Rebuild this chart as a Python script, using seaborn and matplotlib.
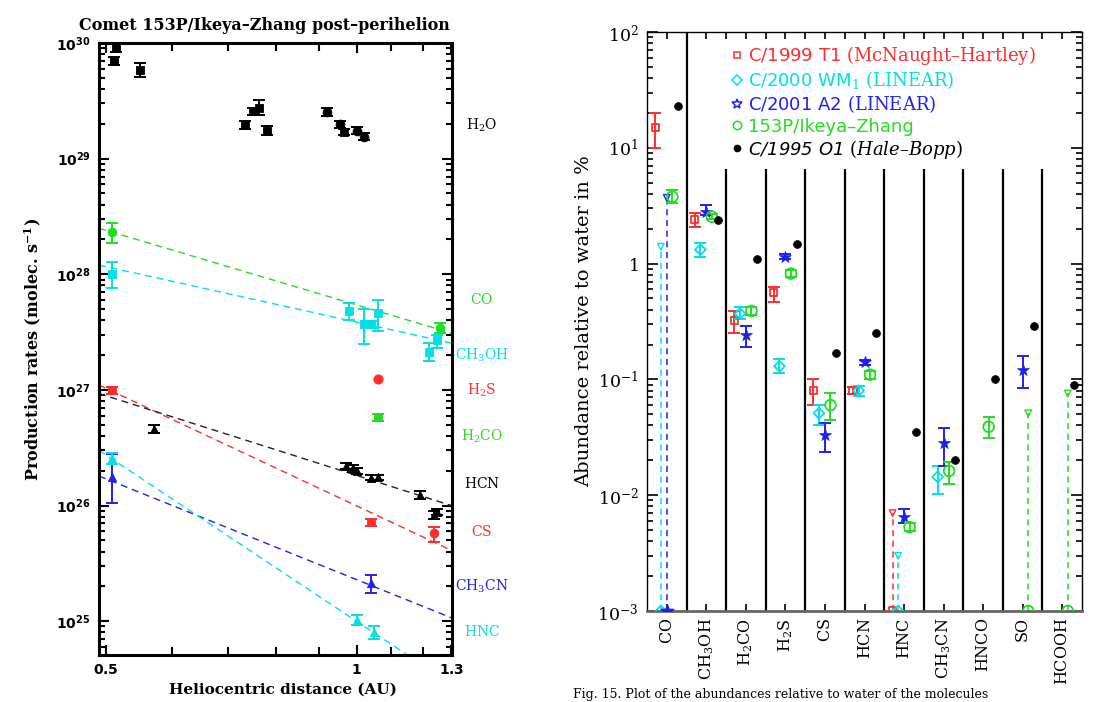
import numpy as np
import pandas as pd
import matplotlib
matplotlib.use("Agg")
import matplotlib.pyplot as plt
import seaborn as sns
from matplotlib.lines import Line2D
from matplotlib import ticker

sns.set_theme(style="ticks")
plt.rcParams["font.family"] = ["DejaVu Sans"]
plt.rcParams["mathtext.fontset"] = "custom"
plt.rcParams["mathtext.rm"] = "DejaVu Serif"
plt.rcParams["mathtext.it"] = "DejaVu Serif:italic"
plt.rcParams["mathtext.bf"] = "DejaVu Serif:bold"
plt.rcParams["mathtext.sf"] = "DejaVu Sans:bold"
for k in ["text.color", "axes.labelcolor", "xtick.color", "ytick.color", "axes.edgecolor"]:
    plt.rcParams[k] = "black"

RED, CYAN, BLUE, GREEN, BLACK = "#ff2d2d", "#00e0e8", "#2020ee", "#22dd22", "#000000"

# ---------------- left panel data (heliocentric distance AU, Q molec/s) -------------
h2o_sq_r = [0.514, 0.511, 0.549, 0.734, 0.750, 0.763, 0.780, 0.965]
h2o_sq_q = [9.1e29, 7.0e29, 5.8e29, 1.95e29, 2.57e29, 2.74e29, 1.74e29, 1.70e29]
h2o_sq_lo = [8.4e29, 6.5e29, 5.08e29, 1.82e29, 2.40e29, 2.38e29, 1.60e29, 1.60e29]
h2o_sq_hi = [9.8e29, 7.5e29, 6.7e29, 2.10e29, 2.75e29, 3.20e29, 1.90e29, 1.80e29]
h2o_ci_r = [0.92, 0.954, 1.00, 1.02]
h2o_ci_q = [2.53e29, 1.99e29, 1.74e29, 1.55e29]
h2o_ci_lo = [2.35e29, 1.85e29, 1.62e29, 1.45e29]
h2o_ci_hi = [2.72e29, 2.13e29, 1.86e29, 1.65e29]

co_r = [0.508, 1.26]
co_q = [2.32e28, 3.43e27]
co_lo = [1.85e28, 3.10e27]
co_hi = [2.80e28, 3.80e27]
co_fit_r = [0.49, 1.3]
co_fit_q = [2.5e28, 3.1e27]

ch3oh_r = [0.508, 0.978, 1.02, 1.04, 1.06, 1.22, 1.25]
ch3oh_q = [1.0e28, 4.8e27, 3.7e27, 3.7e27, 4.6e27, 2.14e27, 2.7e27]
ch3oh_lo = [7.6e27, 4.0e27, 2.49e27, 3.45e27, 3.2e27, 1.78e27, 2.3e27]
ch3oh_hi = [1.27e28, 5.6e27, 5.0e27, 3.95e27, 6.0e27, 2.54e27, 3.0e27]
ch3oh_fit_r = [0.49, 1.3]
ch3oh_fit_q = [1.2e28, 2.54e27]

h2s_r = [1.06]
h2s_q = [1.24e27]

h2co_r = [1.06]
h2co_q = [5.8e26]
h2co_lo = [5.4e26]
h2co_hi = [6.2e26]

cs_sq_r = [0.508, 1.04]
cs_sq_q = [1.0e27, 7.2e25]
cs_sq_lo = [0.93e27, 6.7e25]
cs_sq_hi = [1.07e27, 7.7e25]
cs_ci_r = [1.24]
cs_ci_q = [5.8e25]
cs_ci_lo = [4.8e25]
cs_ci_hi = [6.5e25]
cs_fit_r = [0.49, 1.3]
cs_fit_q = [1.1e27, 4.1e25]

hcn_r = [0.570, 0.97, 0.99, 1.00, 1.04, 1.06, 1.19, 1.24, 1.25]
hcn_q = [4.6e26, 2.2e26, 2.1e26, 2.0e26, 1.74e26, 1.75e26, 1.23e26, 8.3e25, 8.8e25]
hcn_lo = [4.2e26, 2.05e26, 1.95e26, 1.88e26, 1.66e26, 1.67e26, 1.13e26, 7.6e25, 8.3e25]
hcn_hi = [5.0e26, 2.35e26, 2.25e26, 2.12e26, 1.82e26, 1.83e26, 1.33e26, 9.0e25, 9.3e25]
hcn_fit_r = [0.49, 1.3]
hcn_fit_q = [9.3e26, 1.0e26]

ch3cn_r = [0.508, 1.04]
ch3cn_q = [1.76e26, 2.14e25]
ch3cn_lo = [1.05e26, 1.75e25]
ch3cn_hi = [2.8e26, 2.5e25]
ch3cn_fit_r = [0.49, 1.3]
ch3cn_fit_q = [1.8e26, 1.07e25]

hnc_r = [0.508, 1.00, 1.05]
hnc_q = [2.6e26, 1.02e25, 8.0e24]
hnc_lo = [2.3e26, 9.2e24, 7.0e24]
hnc_hi = [2.85e26, 1.12e25, 9.0e24]
hnc_fit_r = [0.49, 1.3]
hnc_fit_q = [3.0e26, 2.85e24]

species_labels = [r"$\mathrm{H_2O}$", r"$\mathrm{CO}$", r"$\mathrm{CH_3OH}$", r"$\mathrm{H_2S}$",
                  r"$\mathrm{H_2CO}$", r"$\mathrm{HCN}$", r"$\mathrm{CS}$", r"$\mathrm{CH_3CN}$",
                  r"$\mathrm{HNC}$"]
species_colors = [BLACK, GREEN, CYAN, RED, GREEN, BLACK, RED, BLUE, CYAN]
species_label_y = [125, 300, 355, 390, 436, 483, 531, 586, 632]   # figure pixel rows

# ---------------- right panel data (abundance relative to water, %) ----------------
molecules = ["CO", "CH3OH", "H2CO", "H2S", "CS", "HCN", "HNC", "CH3CN", "HNCO", "SO", "HCOOH"]
mol_ticklabels = [r"$\mathrm{CO}$", r"$\mathrm{CH_3OH}$", r"$\mathrm{H_2CO}$", r"$\mathrm{H_2S}$",
                  r"$\mathrm{CS}$", r"$\mathrm{HCN}$", r"$\mathrm{HNC}$", r"$\mathrm{CH_3CN}$",
                  r"$\mathrm{HNCO}$", r"$\mathrm{SO}$", r"$\mathrm{HCOOH}$"]
nan = np.nan
mh_val = [14.9, 2.39, 0.323, 0.56, 0.080, 0.080, nan, nan, nan, nan, nan]
mh_lo = [10.0, 2.08, 0.25, 0.47, 0.060, 0.075, nan, nan, nan, nan, nan]
mh_hi = [20.0, 2.75, 0.39, 0.63, 0.100, 0.086, nan, nan, nan, nan, nan]
mh_lim = [nan, nan, nan, nan, nan, nan, 0.0070, nan, nan, nan, nan]

wm_val = [nan, 1.32, 0.37, 0.13, 0.051, 0.080, nan, 0.0144, nan, nan, nan]
wm_lo = [nan, 1.13, 0.335, 0.113, 0.040, 0.072, nan, 0.0102, nan, nan, nan]
wm_hi = [nan, 1.52, 0.42, 0.150, 0.060, 0.088, nan, 0.0178, nan, nan, nan]
wm_lim = [1.40, nan, nan, nan, nan, nan, 0.0030, nan, nan, nan, nan]

a2_val = [nan, 2.81, 0.24, 1.15, 0.033, 0.140, 0.0065, 0.028, nan, 0.12, nan]
a2_lo = [nan, 2.64, 0.19, 1.09, 0.0236, 0.133, 0.0057, 0.0178, nan, 0.085, nan]
a2_hi = [nan, 3.20, 0.29, 1.21, 0.042, 0.147, 0.0076, 0.038, nan, 0.158, nan]
a2_lim = [3.7, nan, nan, nan, nan, nan, nan, nan, nan, nan, nan]

iz_val = [3.78, 2.54, 0.39, 0.82, 0.060, 0.110, 0.0053, 0.0162, 0.039, nan, nan]
iz_lo = [3.35, 2.42, 0.36, 0.76, 0.045, 0.101, 0.0049, 0.0125, 0.031, nan, nan]
iz_hi = [4.30, 2.66, 0.42, 0.88, 0.076, 0.119, 0.0057, 0.0195, 0.047, nan, nan]
iz_lim = [nan, nan, nan, nan, nan, nan, nan, nan, nan, 0.051, 0.0756]

hb_val = [23.0, 2.39, 1.10, 1.49, 0.17, 0.25, 0.035, 0.020, 0.10, 0.29, 0.09]

comet_names = ["C/1999 T1 $\\mathrm{(McNaught\u2013Hartley)}$",
               "C/2000 WM$_1$ $\\mathrm{(LINEAR)}$",
               "C/2001 A2 $\\mathrm{(LINEAR)}$",
               "153P/Ikeya\u2013Zhang",
               "C/1995 O1 $\\mathit{(Hale\u2013Bopp)}$"]

W, H = 1115, 702
fig = plt.figure(figsize=(W / 100, H / 100), dpi=100)
axL = fig.add_axes([99 / W, 1 - 655 / H, 353 / W, 612 / H])
axR = fig.add_axes([647 / W, 1 - 611 / H, 435 / W, 579 / H])

# ======================= LEFT PANEL =======================
axL.set_xscale("log")
axL.set_yscale("log")
axL.set_xlim(0.49, 1.302)
axL.set_ylim(5.1e24, 1e30)


def left_series(r, q, lo, hi, marker, color, s=34):
    r = np.asarray(r, float)
    q = np.asarray(q, float)
    if lo is not None:
        axL.errorbar(r, q, yerr=[q - np.asarray(lo), np.asarray(hi) - q], fmt="none",
                     ecolor=color, elinewidth=1.4, capsize=4, capthick=1.4, zorder=2)
    sns.scatterplot(x=r, y=q, marker=marker, color=color, s=s, edgecolor=color,
                    linewidth=0.6, ax=axL, zorder=3, legend=False)


def left_fit(r, q, color):
    sns.lineplot(x=r, y=q, color=color, ax=axL, linewidth=1.0,
                 linestyle=(0, (5, 3.5)), zorder=1)


left_fit(co_fit_r, co_fit_q, GREEN)
left_fit(ch3oh_fit_r, ch3oh_fit_q, CYAN)
left_fit(cs_fit_r, cs_fit_q, RED)
left_fit(hcn_fit_r, hcn_fit_q, "#222222")
left_fit(ch3cn_fit_r, ch3cn_fit_q, BLUE)
left_fit(hnc_fit_r, hnc_fit_q, CYAN)

left_series(h2o_sq_r, h2o_sq_q, h2o_sq_lo, h2o_sq_hi, "s", BLACK)
left_series(h2o_ci_r, h2o_ci_q, h2o_ci_lo, h2o_ci_hi, "o", BLACK, s=40)
left_series(co_r, co_q, co_lo, co_hi, "o", GREEN, s=40)
left_series(ch3oh_r, ch3oh_q, ch3oh_lo, ch3oh_hi, "s", CYAN, s=40)
left_series(h2s_r, h2s_q, None, None, "o", RED, s=45)
left_series(h2co_r, h2co_q, h2co_lo, h2co_hi, "s", GREEN)
left_series(cs_sq_r, cs_sq_q, cs_sq_lo, cs_sq_hi, "s", RED, s=40)
left_series(cs_ci_r, cs_ci_q, cs_ci_lo, cs_ci_hi, "o", RED, s=40)
left_series(hcn_r, hcn_q, hcn_lo, hcn_hi, "^", BLACK)
left_series(ch3cn_r, ch3cn_q, ch3cn_lo, ch3cn_hi, "^", BLUE)
left_series(hnc_r, hnc_q, hnc_lo, hnc_hi, "^", CYAN)

axL.xaxis.set_major_locator(ticker.FixedLocator([0.5, 1.0, 1.3]))
axL.xaxis.set_major_formatter(ticker.FixedFormatter([r"$\mathsf{0.5}$", r"$\mathsf{1}$", r"$\mathsf{1.3}$"]))
axL.xaxis.set_minor_locator(ticker.FixedLocator([0.6, 0.7, 0.8, 0.9, 1.1, 1.2]))
axL.xaxis.set_minor_formatter(ticker.NullFormatter())
axL.yaxis.set_major_locator(ticker.LogLocator(base=10, numticks=20))
axL.yaxis.set_major_formatter(ticker.FuncFormatter(
    lambda v, p: r"$\mathsf{10^{%d}}$" % round(np.log10(v))))
axL.yaxis.set_minor_locator(ticker.LogLocator(base=10, subs=np.arange(2, 10), numticks=100))
axL.yaxis.set_minor_formatter(ticker.NullFormatter())
axL.tick_params(which="both", direction="in", top=True, right=True, width=1.5, colors="black",
                labelsize=10, pad=6)
axL.tick_params(which="major", length=7)
axL.tick_params(which="minor", length=4)
axL.tick_params(axis="x", which="minor", length=6)
for sp in axL.spines.values():
    sp.set_linewidth(2.2)
    sp.set_color("black")
    sp.set_visible(True)

axL.set_xlabel("Heliocentric distance (AU)", fontfamily="DejaVu Serif", fontweight="bold",
               fontsize=11, color="black")
axL.set_ylabel(r"Production rates (molec. s$^{\mathbf{-1}}$)", fontfamily="DejaVu Serif",
               fontweight="bold", fontsize=11.5, color="black")
axL.xaxis.set_label_coords(0.52, -0.046)
axL.yaxis.set_label_coords(-0.158, 0.5)
fig.text(264 / W, 1 - 26 / H, "Comet 153P/Ikeya\u2013Zhang post\u2013perihelion", ha="center", va="center",
         fontfamily="DejaVu Serif", fontweight="bold", fontsize=11.5, color="black")

for lab, col, py in zip(species_labels, species_colors, species_label_y):
    fig.text(482 / W, 1 - py / H, lab, color=col, ha="center", va="center", fontsize=10)

# ======================= RIGHT PANEL =======================
axR.set_yscale("log")
axR.set_ylim(1e-3, 1e2)
axR.set_xlim(-0.5, 10.5)
pos = np.arange(len(molecules))

# separators between molecules
axR.axvline(0.5, color="black", lw=1.6, zorder=1)
axR.vlines(pos[1:-1] + 0.5, 1e-3, 6.5, color="black", lw=1.6, zorder=1)


def right_series(val, lo, hi, lim, off, color, marker, s, filled):
    x = pos + off
    val = np.asarray(val, float)
    df = pd.DataFrame({"x": x, "y": val}).dropna()
    if lo is not None:
        lo = np.asarray(lo, float)
        hi = np.asarray(hi, float)
        ok = ~np.isnan(val)
        axR.errorbar(x[ok], val[ok], yerr=[val[ok] - lo[ok], hi[ok] - val[ok]], fmt="none",
                     ecolor=color, elinewidth=1.4, capsize=4, capthick=1.4, zorder=2)
    sns.scatterplot(data=df, x="x", y="y", marker=marker, s=s, color=color, edgecolor=color,
                    linewidth=1.3 if not filled else 0.5, ax=axR, zorder=3, legend=False)
    if not filled:
        axR.collections[-1].set_facecolor("none")
    if lim is not None:
        lim = np.asarray(lim, float)
        ok = ~np.isnan(lim)
        for xi, li in zip(x[ok], lim[ok]):
            axR.plot([xi, xi], [1e-3, li], color=color, lw=1.1, linestyle=(0, (4, 3)), zorder=2)
        dfl = pd.DataFrame({"x": x[ok], "y": lim[ok]})
        sns.scatterplot(data=dfl, x="x", y="y", marker="v", s=22, color=color, edgecolor=color,
                        linewidth=1.0, ax=axR, zorder=3, legend=False)
        axR.collections[-1].set_facecolor("none")
        dfb = pd.DataFrame({"x": x[ok], "y": np.full(ok.sum(), 1e-3)})
        sns.scatterplot(data=dfb, x="x", y="y", marker=marker, s=s, color=color, edgecolor=color,
                        linewidth=1.3, ax=axR, zorder=3, legend=False)
        if not filled:
            axR.collections[-1].set_facecolor("none")


right_series(mh_val, mh_lo, mh_hi, mh_lim, -0.29, RED, "s", 26, False)
right_series(wm_val, wm_lo, wm_hi, wm_lim, -0.15, CYAN, "D", 30, False)
right_series(a2_val, a2_lo, a2_hi, a2_lim, 0.0, BLUE, "*", 80, True)
right_series(iz_val, iz_lo, iz_hi, iz_lim, 0.14, GREEN, "o", 60, False)
right_series(hb_val, None, None, None, 0.29, BLACK, "o", 32, True)

axR.xaxis.set_major_locator(ticker.FixedLocator(pos))
axR.xaxis.set_major_formatter(ticker.FixedFormatter(mol_ticklabels))
axR.xaxis.set_minor_locator(ticker.FixedLocator(pos[:-1] + 0.5))
axR.xaxis.set_minor_formatter(ticker.NullFormatter())
for t in axR.get_xticklabels():
    t.set_rotation(90)
axR.tick_params(axis="x", which="major", labelsize=11.5, pad=5)
axR.yaxis.set_major_locator(ticker.FixedLocator([1e-3, 1e-2, 1e-1, 1, 10, 100]))
axR.yaxis.set_major_formatter(ticker.FixedFormatter(
    [r"$\mathrm{10^{-3}}$", r"$\mathrm{10^{-2}}$", r"$\mathrm{10^{-1}}$", r"$\mathrm{1}$",
     r"$\mathrm{10^{1}}$", r"$\mathrm{10^{2}}$"]))
axR.yaxis.set_minor_locator(ticker.LogLocator(base=10, subs=np.arange(2, 10), numticks=100))
axR.yaxis.set_minor_formatter(ticker.NullFormatter())
axR.tick_params(which="both", direction="in", top=True, right=True, width=1.2, colors="black")
axR.tick_params(axis="y", which="major", length=8, labelsize=12.5, pad=6)
axR.tick_params(axis="y", which="minor", length=4)
axR.tick_params(axis="x", which="both", length=5)
for name, sp in axR.spines.items():
    sp.set_linewidth(1.0)
    sp.set_color("black")
axR.spines["bottom"].set_color("#666666")
axR.spines["bottom"].set_linewidth(2.0)
axR.set_xlabel("")
axR.set_ylabel("Abundance relative to water in %", fontfamily="DejaVu Serif", fontsize=14,
               color="black")
axR.yaxis.set_label_coords(-0.124, 0.5)

handles = [
    Line2D([], [], marker="s", mfc="none", mec=RED, ls="none", ms=5, mew=1.1),
    Line2D([], [], marker="D", mfc="none", mec=CYAN, ls="none", ms=5, mew=1.1),
    Line2D([], [], marker="*", mfc="none", mec=BLUE, ls="none", ms=7, mew=1.1),
    Line2D([], [], marker="o", mfc="none", mec=GREEN, ls="none", ms=6, mew=1.1),
    Line2D([], [], marker="o", mfc=BLACK, mec=BLACK, ls="none", ms=4.5),
]
leg = axR.legend(handles, comet_names, loc="upper left", bbox_to_anchor=(0.1945, 0.979),
                 frameon=False, fontsize=13, handlelength=0.6, handletextpad=0.3,
                 borderpad=0, borderaxespad=0, labelspacing=0.12,
                 labelcolor=[RED, CYAN, BLUE, GREEN, BLACK])
leg.get_texts()[4].set_fontstyle("italic")

fig.text(573 / W, 1 / H, "Fig. 15. Plot of the abundances relative to water of the molecules",
         ha="left", va="bottom", fontfamily="DejaVu Serif", fontsize=9, color="black")

fig.savefig("out.png", dpi=100)
